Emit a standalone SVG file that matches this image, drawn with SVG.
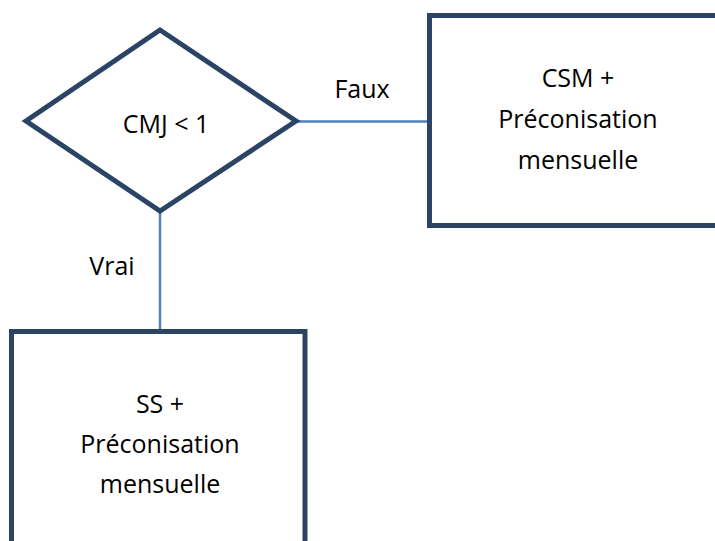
<svg xmlns="http://www.w3.org/2000/svg" width="715" height="541" viewBox="0 0 715 541">
<style>
.shape{fill:#ffffff;stroke:#2b4466;stroke-width:5;stroke-linejoin:miter}
.conn{stroke:#4f81bd;stroke-width:2.5;fill:none}
text{font-family:"Open Sans","Liberation Sans",sans-serif;font-size:25px;fill:#000000;text-anchor:middle}
</style>
<rect width="715" height="541" fill="#ffffff"/>
<g id="connectors">
<line class="conn" x1="296" y1="121.5" x2="429" y2="121.5"/>
<line class="conn" x1="160" y1="211" x2="160" y2="331"/>
<text x="362" y="98">Faux</text>
<text x="112" y="275">Vrai</text>
</g>
<g id="decision">
<polygon class="shape" points="160,30 296,121 160,211 26,121"/>
<text x="166" y="133">CMJ &lt; 1</text>
</g>
<g id="csm">
<rect class="shape" x="429.5" y="15.5" width="300" height="210"/>
<text x="578" y="87">CSM +</text>
<text x="578" y="128">Préconisation</text>
<text x="578" y="169">mensuelle</text>
</g>
<g id="ss">
<rect class="shape" x="11.5" y="331.5" width="293.5" height="230"/>
<text x="160" y="413">SS +</text>
<text x="160" y="453">Préconisation</text>
<text x="160" y="493">mensuelle</text>
</g>
</svg>
